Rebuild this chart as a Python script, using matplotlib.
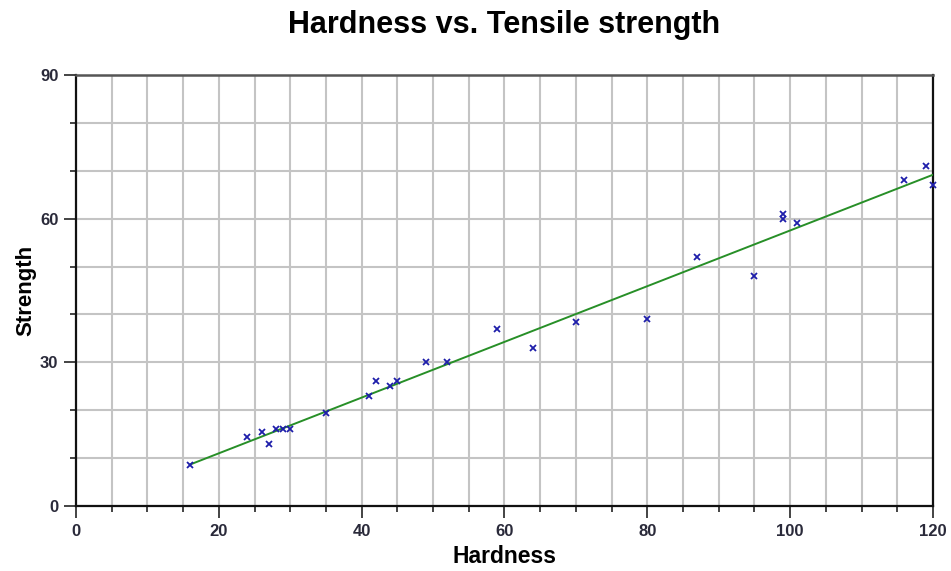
import numpy as np
import matplotlib
matplotlib.use("Agg")
import matplotlib.pyplot as plt
from matplotlib.ticker import MultipleLocator

# ── Datos ────────────────────────────────────────────────────────────────────
hardness = [16, 24, 26, 27, 28, 29, 30, 35, 41, 42, 44, 45, 49, 52,
            59, 64, 70, 80, 87, 95, 99, 99, 101, 116, 119, 120]
strength = [8.5, 14.5, 15.5, 13, 16, 16, 16, 19.5, 23, 26, 25, 26, 30, 30,
            37, 33, 38.5, 39, 52, 48, 61, 60, 59, 68, 71, 67]

titulo = "Hardness vs. Tensile strength"
xlabel = "Hardness"
ylabel = "Strength"

plt.rcParams["font.family"] = ["Liberation Sans", "DejaVu Sans"]

fig = plt.figure(figsize=(9.51, 5.71), dpi=100)
ax = fig.add_axes([0.0799, 0.1138, 0.9011, 0.7549])

# recta de regresion
pend, orde = np.polyfit(hardness, strength, 1)
xs = np.array([min(hardness), max(hardness)])
ax.plot(xs, pend * xs + orde, color="#278f27", lw=1.4, zorder=3)

ax.plot(hardness, strength, linestyle="none", marker="x", ms=5, mew=1.3,
        color="#1e1eaa", zorder=4, clip_on=False)

ax.set_xlim(0, 120)
ax.set_ylim(0, 90)
ax.xaxis.set_major_locator(MultipleLocator(20))
ax.xaxis.set_minor_locator(MultipleLocator(5))
ax.yaxis.set_major_locator(MultipleLocator(30))
ax.yaxis.set_minor_locator(MultipleLocator(10))

ax.grid(True, which="both", color="#c4c4c4", lw=1.5, zorder=0)
ax.set_axisbelow(True)

for lado in ["left", "bottom", "right"]:
    ax.spines[lado].set_color("#111111")
    ax.spines[lado].set_linewidth(1.6)
ax.spines["top"].set_color("#555555")
ax.spines["top"].set_linewidth(1.8)

ax.tick_params(which="major", length=8.6, width=1.1, color="#111111",
               direction="out", pad=4)
ax.tick_params(which="minor", length=4.3, width=1.1, color="#111111",
               direction="out")
for lab in ax.get_xticklabels() + ax.get_yticklabels():
    lab.set_fontsize(12)
    lab.set_fontweight("bold")
    lab.set_color("#2a2a3a")

ax.set_title(titulo, fontsize=22, fontweight="bold", pad=30, x=0.499)
ax.set_xlabel(xlabel, fontsize=16.5, fontweight="bold", labelpad=5)
ax.set_ylabel(ylabel, fontsize=16, fontweight="bold", labelpad=3)

fig.savefig("out.png", dpi=100)
